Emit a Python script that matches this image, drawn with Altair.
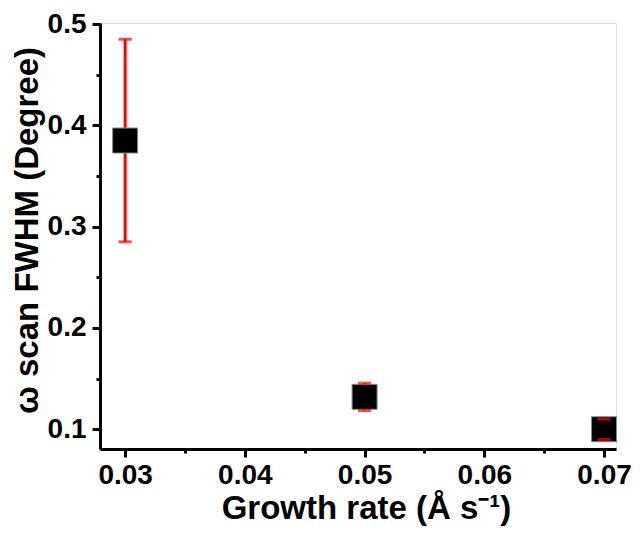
import altair as alt
import pandas as pd

# Data
growth_rate = [0.03, 0.05, 0.07]
fwhm = [0.385, 0.132, 0.100]
fwhm_err = [0.100, 0.0135, 0.010]

x_major = [0.03, 0.04, 0.05, 0.06, 0.07]
x_minor = [0.035, 0.045, 0.055, 0.065]
y_major = [0.1, 0.2, 0.3, 0.4, 0.5]
y_minor = [0.15, 0.25, 0.35, 0.45]

df = pd.DataFrame({
    "rate": growth_rate,
    "fwhm": fwhm,
    "lo": [v - e for v, e in zip(fwhm, fwhm_err)],
    "hi": [v + e for v, e in zip(fwhm, fwhm_err)],
})

FONT = "Liberation Sans"

x_test = "abs(datum.value*100 - round(datum.value*100)) < 0.001"
y_test = "abs(datum.value*10 - round(datum.value*10)) < 0.001"

x_axis = alt.Axis(
    values=x_major + x_minor,
    labelExpr=f"({x_test}) ? format(datum.value, '.2f') : ''",
    tickSize={"condition": {"test": x_test, "value": 8}, "value": 4},
    tickWidth=3, tickColor="black",
    domainWidth=3, domainColor="black",
    grid=False,
    labelFont=FONT, labelFontSize=28, labelFontWeight="bold", labelColor="black",
    labelPadding=4,
    title="Growth rate (Å s⁻¹)",
    titleFont=FONT, titleFontSize=33, titleFontWeight="bold", titleColor="black",
    titlePadding=3,
    titleX=266,
)
y_axis = alt.Axis(
    values=y_major + y_minor,
    labelExpr=f"({y_test}) ? format(datum.value, '.1f') : ''",
    tickSize={"condition": {"test": y_test, "value": 8}, "value": 4},
    tickWidth=3, tickColor="black",
    domainWidth=3, domainColor="black",
    grid=False,
    labelFont=FONT, labelFontSize=28, labelFontWeight="bold", labelColor="black",
    labelPadding=6,
    title="ω scan FWHM (Degree)",
    titleFont=FONT, titleFontSize=33, titleFontWeight="bold", titleColor="black",
    titlePadding=3,
    titleY=207,
)

x_scale = alt.Scale(domain=[0.0279, 0.0710], nice=False, zero=False)
y_scale = alt.Scale(domain=[0.0805, 0.501], nice=False, zero=False)

base = alt.Chart(df)

bars = base.mark_rule(color="#FF0000", strokeWidth=3).encode(
    x=alt.X("rate:Q", scale=x_scale, axis=x_axis),
    y=alt.Y("lo:Q", scale=y_scale, axis=y_axis),
    y2="hi:Q",
)

squares = base.mark_square(size=625, color="black", opacity=1, stroke="#888888", strokeWidth=1).encode(
    x="rate:Q", y="fwhm:Q"
)

cap_lo = base.mark_tick(color="#FF0000", orient="horizontal", size=13, thickness=3).encode(
    x="rate:Q", y="lo:Q"
)
cap_hi = base.mark_tick(color="#FF0000", orient="horizontal", size=13, thickness=3).encode(
    x="rate:Q", y="hi:Q"
)

chart = alt.layer(bars, squares, cap_lo, cap_hi).properties(
    width=516, height=426,
    autosize=alt.AutoSizeParams(type="none"),
    padding={"left": 92, "top": 15, "right": 16, "bottom": 78},
).configure_view(stroke="black", strokeWidth=3).configure(background="white")

chart.save("out.html", embed_options={"renderer": "svg", "actions": False})
